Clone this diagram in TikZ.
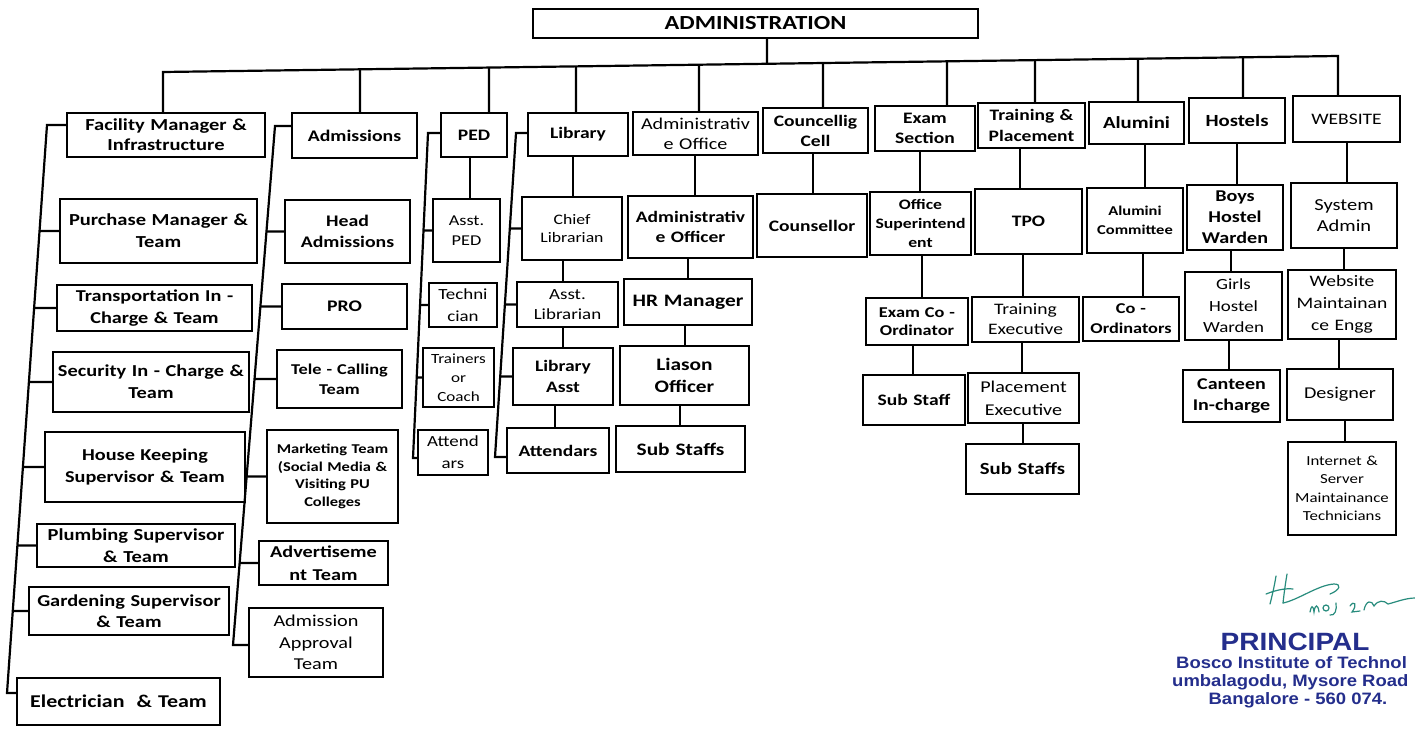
\documentclass[tikz,border=0pt]{standalone}
\usepackage{fontspec}
\setmainfont{Carlito}[FakeStretch=1.22]
\newfontfamily\stampfont{Liberation Sans}[FakeStretch=1.12]
\usetikzlibrary{calc}
\definecolor{stampblue}{RGB}{36,46,140}
\definecolor{sigteal}{RGB}{40,140,125}
\tikzset{
  box/.style={draw, line width=2.7pt, inner xsep=2pt, inner ysep=0pt, outer sep=0pt, align=center},
  B/.style 2 args={font=\fontsize{#1}{#2}\selectfont\bfseries},
  R/.style 2 args={font=\fontsize{#1}{#2}\selectfont},
  conn/.style={line width=2.2pt},
  stamp/.style={text=stampblue, inner sep=0pt}
}
\newcommand\bx[7][]{%
  \pgfmathsetmacro\bxw{#5-#3-4}%
  \pgfmathsetmacro\bxh{#6-#4}%
  \pgfmathsetmacro\bxx{(#3+#5)/2}%
  \pgfmathsetmacro\bxy{(#4+#6)/2}%
  \node[box,#1,text width=\bxw pt,minimum height=\bxh pt] (#2) at (\bxx,\bxy) {#7};}
\newcommand\stem[2]{\draw[conn] (intersection of busL--busR and #2,0--#2,100) -- (#1.north -| #2,0);}
\newcommand\vc[3]{\draw[conn] (#1.south -| #3,0) -- (#2.north -| #3,0);}
\newcommand\br[3]{\draw[conn] (intersection of #1--#2 and #3.west--#3.east) -- (#3.west);}
\begin{document}
\begin{tikzpicture}[x=1pt,y=-1pt]
\useasboundingbox (0,0) rectangle (1415,731);
\fill[white] (0,0) rectangle (1415,731);

% top
\bx[B={20}{24}]{admin}{533}{9}{978}{38}{ADMINISTRATION}
\bx[B={16.8}{20}]{fac}{67}{113}{265}{157}{Facility Manager \&\\Infrastructure}
\bx[B={16.2}{20}]{adm}{292}{113}{417}{158}{Admissions}
\bx[B={16}{20}]{ped}{441}{113}{507}{157}{PED}
\bx[B={16}{20}]{lib}{528}{113}{628}{156}{Library}
\bx[R={16.5}{20}]{aoff}{633}{112}{758}{155}{Administrativ\\e Office}
\bx[B={16}{20}]{coun}{763}{108}{868}{153}{Councellig\\Cell}
\bx[B={16}{20.7}]{exam}{875}{106}{975}{151}{Exam\\Section}
\bx[B={16}{20.7}]{tp}{978}{103}{1085}{148}{Training \&\\Placement}
\bx[B={17}{20}]{alu}{1089}{102}{1184}{144}{Alumini}
\bx[B={17}{20}]{hos}{1189}{98}{1285}{143}{Hostels}
\bx[R={16}{20}]{web}{1293}{96}{1400}{142}{WEBSITE}

% column 1
\bx[B={16.8}{21.7}]{pur}{60}{199}{257}{263}{Purchase Manager \&\\Team}
\bx[B={16.6}{21.7}]{tra}{57}{285}{252}{331}{Transportation In -\\Charge \& Team}
\bx[B={16.7}{22}]{sec}{53}{352}{249}{412}{Security In - Charge \&\\Team}
\bx[B={16.6}{21.7}]{hk}{45}{432}{245}{502}{House Keeping\\Supervisor \& Team}
\bx[B={16.8}{21.7}]{plu}{37}{524}{235}{567}{Plumbing Supervisor\\\& Team}
\bx[B={16.7}{20.7}]{gar}{29}{587}{229}{635}{Gardening Supervisor\\\& Team}
\bx[B={18}{20}]{ele}{17}{678}{220}{725}{Electrician\ \ \& Team}

% column 2
\bx[B={16.2}{21}]{had}{285}{200}{410}{263}{Head\\Admissions}
\bx[B={16.2}{20}]{pro}{282}{284}{407}{329}{PRO}
\bx[B={15}{20}]{tel}{277}{350}{402}{408}{Tele - Calling\\Team}
\bx[B={13.5}{17.6}]{mkt}{267}{430}{398}{523}{Marketing Team\\(Social Media \&\\Visiting PU\\Colleges}
\bx[B={16.6}{23}]{adv}{259}{541}{388}{585}{Advertiseme\\nt Team}
\bx[R={16.6}{21.7}]{apr}{249}{608}{383}{677}{Admission\\Approval\\Team}

% column 3
\bx[R={15}{20}]{aped}{433}{199}{500}{262}{Asst.\\PED}
\bx[R={15.5}{21.7}]{tec}{429}{283}{497}{327}{Techni\\cian}
\bx[R={14}{19}]{trn}{423}{348}{494}{407}{Trainers\\or\\Coach}
\bx[R={15.5}{21.7}]{att1}{418}{430}{488}{475}{Attend\\ars}

% column 4
\bx[R={14.5}{18.3}]{chl}{522}{197}{622}{260}{Chief\\Librarian}
\bx[R={15.5}{20}]{alib}{517}{282}{618}{327}{Asst.\\Librarian}
\bx[B={16}{20.7}]{lasst}{513}{348}{613}{405}{Library\\Asst}
\bx[B={16}{20}]{att2}{507}{428}{609}{473}{Attendars}

% column 5, 6
\bx[B={16}{20}]{aof}{628}{196}{753}{258}{Administrativ\\e Officer}
\bx[B={17.5}{20}]{hr}{624}{279}{752}{325}{HR Manager}
\bx[B={17.5}{22.7}]{lia}{620}{346}{749}{405}{Liason\\Officer}
\bx[B={17.5}{20}]{ss1}{616}{426}{745}{472}{Sub Staffs}
\bx[B={16}{20}]{csl}{757}{194}{867}{257}{Counsellor}

% column 7
\bx[B={14.5}{19.2}]{osup}{870}{192}{971}{255}{Office\\Superintend\\ent}
\bx[B={15}{18}]{eco}{866}{298}{968}{345}{Exam Co -\\Ordinator}
\bx[B={16}{20}]{ss2}{863}{375}{965}{425}{Sub Staff}

% column 8
\bx[B={16}{20}]{tpo}{975}{189}{1082}{254}{TPO}
\bx[R={16}{20}]{tex}{972}{297}{1079}{342}{Training\\Executive}
\bx[R={16.5}{22.7}]{pex}{968}{373}{1079}{423}{Placement\\Executive}
\bx[B={17}{20}]{ss3}{966}{444}{1079}{494}{Sub Staffs}

% column 9
\bx[B={13.5}{19}]{acom}{1087}{188}{1183}{253}{Alumini\\Committee}
\bx[B={15}{20}]{cord}{1083}{297}{1179}{341}{Co -\\Ordinators}

% column 10
\bx[B={16.5}{21}]{bhw}{1187}{185}{1283}{250}{Boys\\Hostel\\Warden}
\bx[R={15.5}{21.5}]{ghw}{1185}{272}{1282}{340}{Girls\\Hostel\\Warden}
\bx[B={16.4}{21.7}]{can}{1183}{370}{1280}{422}{Canteen\\In-charge}

% column 11
\bx[R={16.8}{20.7}]{sys}{1291}{183}{1397}{248}{System\\Admin}
\bx[R={16}{21.7}]{wme}{1288}{270}{1396}{339}{Website\\Maintainan\\ce Engg}
\bx[R={16.5}{20}]{des}{1287}{369}{1393}{420}{Designer}
\bx[R={13.8}{18.5}]{inet}{1288}{442}{1396}{535}{Internet \&\\Server\\Maintainance\\Technicians}

% bus
\coordinate (busL) at (163,72);
\coordinate (busR) at (1338,56);
\draw[conn] (admin.south -| 767,0) -- (intersection of busL--busR and 767,0--767,100);
\draw[conn] (fac.north -| busL) -- (busL) -- (busR) -- (web.north -| busR);
\stem{adm}{360}\stem{ped}{489}\stem{lib}{576}\stem{aoff}{699}\stem{coun}{823}
\stem{exam}{947}\stem{tp}{1035}\stem{alu}{1138}\stem{hos}{1243}

% trunks
\coordinate (t1a) at (47,125);  \coordinate (t1b) at (7,693);
\draw[conn] (fac.west |- t1a) -- (t1a) -- (t1b) -- (ele.west |- t1b);
\br{t1a}{t1b}{pur}\br{t1a}{t1b}{tra}\br{t1a}{t1b}{sec}\br{t1a}{t1b}{hk}\br{t1a}{t1b}{plu}\br{t1a}{t1b}{gar}

\coordinate (t2a) at (275,126); \coordinate (t2b) at (233,645);
\draw[conn] (adm.west |- t2a) -- (t2a) -- (t2b) -- (apr.west |- t2b);
\br{t2a}{t2b}{had}\br{t2a}{t2b}{pro}\br{t2a}{t2b}{tel}\br{t2a}{t2b}{mkt}\br{t2a}{t2b}{adv}

\coordinate (t3a) at (428,133); \coordinate (t3b) at (413,458);
\draw[conn] (ped.west |- t3a) -- (t3a) -- (t3b) -- (att1.west |- t3b);
\br{t3a}{t3b}{aped}\br{t3a}{t3b}{tec}\br{t3a}{t3b}{trn}

\coordinate (t4a) at (516,133); \coordinate (t4b) at (495,457);
\draw[conn] (lib.west |- t4a) -- (t4a) -- (t4b) -- (att2.west |- t4b);
\br{t4a}{t4b}{chl}\br{t4a}{t4b}{alib}\br{t4a}{t4b}{lasst}

% vertical chains
\vc{ped}{aped}{470}
\vc{lib}{chl}{573}\vc{chl}{alib}{563}\vc{alib}{lasst}{563}\vc{lasst}{att2}{555}
\vc{aoff}{aof}{695}\vc{aof}{hr}{688}\vc{hr}{lia}{685}\vc{lia}{ss1}{680}
\vc{coun}{csl}{813}
\vc{exam}{osup}{920}\vc{osup}{eco}{922}\vc{eco}{ss2}{913}
\vc{tp}{tpo}{1020}\vc{tpo}{tex}{1023}\vc{tex}{pex}{1022}\vc{pex}{ss3}{1023}
\vc{alu}{acom}{1145}\vc{acom}{cord}{1143}
\vc{hos}{bhw}{1237}\vc{bhw}{ghw}{1231}\vc{ghw}{can}{1229}
\vc{web}{sys}{1347}\vc{sys}{wme}{1344}\vc{wme}{des}{1339}\vc{des}{inet}{1345}

% signature
\begin{scope}[draw=sigteal, line width=1.2pt, line cap=round]
\draw (1276,576) .. controls (1274,588) and (1272,596) .. (1270,604);
\draw (1287,574) .. controls (1285,586) and (1284,594) .. (1283,603);
\draw (1266,594) .. controls (1276,590) and (1286,588) .. (1293,589);
\draw (1283,603) .. controls (1298,600) and (1318,585) .. (1334,584) .. controls (1342,584) and (1340,590) .. (1330,594);
\draw (1310,612) .. controls (1311,606) and (1313,604) .. (1314,612) .. controls (1315,604) and (1318,604) .. (1319,612);
\draw (1326,608) circle (3);
\draw (1336,603) .. controls (1337,610) and (1335,616) .. (1330,615);
\draw (1350,606) .. controls (1354,600) and (1358,604) .. (1352,612) -- (1360,611);
\draw (1364,610) .. controls (1366,600) and (1372,600) .. (1374,606) .. controls (1378,600) and (1384,600) .. (1388,604) .. controls (1396,602) and (1406,598) .. (1415,598);
\end{scope}

% stamp
\node[stamp, font=\stampfont\bfseries\fontsize{25}{25}\selectfont, anchor=base] (prin) at (1295,650) {PRINCIPAL};
\node[stamp, font=\stampfont\bfseries\fontsize{16.5}{16.5}\selectfont, anchor=base west] (inst) at (1176,668) {Bosco Institute of Technol};
\node[stamp, font=\stampfont\bfseries\fontsize{16.5}{16.5}\selectfont, anchor=base west] (road) at (1172,686) {umbalagodu, Mysore Road};
\node[stamp, font=\stampfont\bfseries\fontsize{16.5}{16.5}\selectfont, anchor=base] (city) at (1298,704) {Bangalore - 560 074.};
\end{tikzpicture}
\end{document}
